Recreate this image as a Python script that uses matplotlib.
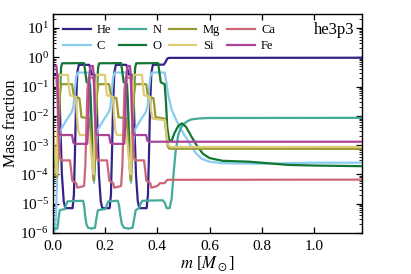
import numpy as np
import matplotlib
matplotlib.use('Agg')
import matplotlib.pyplot as plt
from matplotlib.ticker import LogLocator, MultipleLocator, NullFormatter

# (mass coordinate, mass fraction), one list per element
he_pts = [(0.0, 0.25), (0.019, 0.25), (0.024, 0.12), (0.028, 5e-3), (0.034, 1e-4), (0.041, 1.2e-5), (0.047, 7e-6),
          (0.075, 7e-6), (0.080, 2e-5), (0.084, 5e-4), (0.088, 2e-2), (0.093, 0.3), (0.099, 0.55), (0.139, 0.55),
          (0.143, 0.4), (0.148, 0.26), (0.154, 0.25),
          (0.161, 0.25), (0.166, 0.12), (0.170, 5e-3), (0.176, 1e-4), (0.183, 1.2e-5), (0.189, 7e-6),
          (0.217, 7e-6), (0.222, 2e-5), (0.226, 5e-4), (0.230, 2e-2), (0.235, 0.3), (0.241, 0.55), (0.281, 0.55),
          (0.285, 0.4), (0.290, 0.26), (0.296, 0.25),
          (0.303, 0.25), (0.308, 0.12), (0.312, 5e-3), (0.318, 1e-4), (0.325, 1.2e-5), (0.331, 7e-6),
          (0.359, 7e-6), (0.364, 2e-5), (0.368, 5e-4), (0.372, 2e-2), (0.377, 0.3), (0.383, 0.55), (0.425, 0.56),
          (0.432, 0.7), (0.438, 0.9), (0.445, 0.95), (1.185, 0.96)]

c_pts = [(0.0, 1e-6), (0.006, 1.1e-6), (0.012, 5e-6), (0.016, 1e-4), (0.021, 5e-4), (0.026, 2e-3), (0.031, 3.5e-3),
         (0.051, 7e-3), (0.071, 1.3e-2), (0.078, 2e-2), (0.084, 8e-2), (0.089, 0.22), (0.095, 0.3), (0.139, 0.3),
         (0.143, 0.1), (0.147, 5e-3), (0.152, 3e-4), (0.157, 5e-5),
         (0.163, 5e-4), (0.168, 2e-3), (0.173, 3.5e-3), (0.193, 7e-3), (0.213, 1.3e-2), (0.220, 2e-2), (0.226, 8e-2),
         (0.231, 0.22), (0.237, 0.3), (0.281, 0.3), (0.285, 0.1), (0.289, 5e-3), (0.294, 3e-4), (0.299, 5e-5),
         (0.305, 5e-4), (0.310, 2e-3), (0.315, 3.5e-3), (0.335, 7e-3), (0.355, 1.3e-2), (0.362, 2e-2), (0.368, 8e-2),
         (0.373, 0.22), (0.379, 0.3), (0.428, 0.3), (0.434, 0.15), (0.442, 5e-2), (0.455, 1.6e-2), (0.47, 8e-3),
         (0.49, 3.5e-3), (0.51, 1.8e-3), (0.53, 9e-4), (0.55, 5e-4), (0.57, 3.4e-4), (0.6, 2.7e-4), (0.65, 2.4e-4),
         (0.8, 2.3e-4), (0.9, 2.4e-4), (1.0, 2.5e-4), (1.185, 2.5e-4)]

n_pts = [(0.0, 1.4e-6), (0.017, 1.4e-6), (0.021, 3e-6), (0.026, 6e-6), (0.045, 6.5e-6), (0.05, 9e-6), (0.056, 1.2e-5),
         (0.115, 1.25e-5), (0.119, 9e-6), (0.123, 4e-6), (0.128, 2e-6), (0.134, 1.5e-6), (0.148, 1.4e-6),
         (0.161, 1.5e-6), (0.166, 3e-6), (0.172, 6e-6), (0.2, 6.5e-6), (0.206, 9e-6), (0.212, 1.2e-5),
         (0.248, 1.25e-5), (0.253, 9e-6), (0.258, 4e-6), (0.264, 2e-6), (0.272, 1.5e-6), (0.29, 1.4e-6),
         (0.305, 1.5e-6), (0.311, 3e-6), (0.317, 6e-6), (0.33, 7e-6), (0.336, 1e-5), (0.342, 1.25e-5),
         (0.42, 1.3e-5), (0.428, 1.1e-5), (0.436, 7e-6), (0.447, 7e-6), (0.455, 1.5e-5), (0.462, 1e-4),
         (0.47, 6e-4), (0.48, 2.2e-3), (0.49, 3.8e-3), (0.5, 5.2e-3), (0.515, 6.5e-3), (0.53, 7.5e-3),
         (0.56, 8.1e-3), (0.6, 8.4e-3), (1.185, 8.5e-3)]

o_pts = [(0.0, 1e-3), (0.008, 3e-4), (0.014, 1e-4), (0.019, 3e-4), (0.023, 5e-3), (0.027, 0.1), (0.031, 0.45),
         (0.035, 0.62), (0.119, 0.63), (0.124, 0.3), (0.129, 0.14), (0.141, 0.12), (0.145, 0.03), (0.149, 2e-3),
         (0.153, 3e-4), (0.157, 1e-4),
         (0.161, 3e-4), (0.165, 5e-3), (0.169, 0.1), (0.173, 0.45), (0.177, 0.62), (0.261, 0.63), (0.266, 0.3),
         (0.271, 0.14), (0.283, 0.12), (0.287, 0.03), (0.291, 2e-3), (0.295, 5e-4), (0.299, 3e-4),
         (0.303, 5e-4), (0.307, 5e-3), (0.311, 0.1), (0.315, 0.45), (0.319, 0.62), (0.403, 0.63), (0.408, 0.3),
         (0.413, 0.14), (0.428, 0.12), (0.433, 0.03), (0.438, 4e-3), (0.445, 1.5e-3), (0.455, 1.4e-3),
         (0.465, 2.5e-3), (0.48, 4.5e-3), (0.494, 5.5e-3), (0.51, 4.2e-3), (0.53, 2e-3), (0.55, 1e-3),
         (0.575, 5e-4), (0.6, 3.6e-4), (0.65, 2.9e-4), (0.75, 2.7e-4), (0.8, 2.5e-4), (0.9, 2.1e-4),
         (1.0, 2.0e-4), (1.185, 1.9e-4)]

mg_pts = [(0.0, 3e-3), (0.006, 5e-4), (0.011, 1e-4), (0.015, 8e-5), (0.019, 5e-4), (0.023, 8e-3), (0.027, 0.06),
          (0.032, 0.12), (0.073, 0.12), (0.077, 0.07), (0.081, 0.045), (0.101, 0.04), (0.105, 0.02), (0.109, 9e-3),
          (0.139, 8e-3), (0.144, 3e-3), (0.149, 5e-4), (0.154, 8e-5), (0.157, 6e-5),
          (0.161, 5e-4), (0.165, 8e-3), (0.169, 0.06), (0.174, 0.12), (0.215, 0.12), (0.219, 0.07), (0.223, 0.045),
          (0.243, 0.04), (0.247, 0.02), (0.251, 9e-3), (0.281, 8e-3), (0.286, 3e-3), (0.291, 5e-4), (0.296, 8e-5),
          (0.299, 6e-5),
          (0.303, 5e-4), (0.307, 8e-3), (0.311, 0.06), (0.316, 0.12), (0.357, 0.12), (0.361, 0.07), (0.365, 0.045),
          (0.385, 0.04), (0.389, 0.02), (0.393, 9e-3), (0.428, 8e-3), (0.434, 2.5e-3), (0.44, 9e-4),
          (0.446, 7.5e-4), (1.185, 7.4e-4)]

si_pts = [(0.0, 3e-3), (0.006, 8e-4), (0.011, 2e-4), (0.015, 1e-4), (0.017, 2e-3), (0.021, 0.05), (0.025, 0.25),
          (0.057, 0.25), (0.061, 0.1), (0.065, 0.05), (0.087, 0.045), (0.092, 0.01), (0.097, 3e-3), (0.103, 2.2e-3),
          (0.139, 2.2e-3), (0.145, 8e-4), (0.151, 2e-4), (0.156, 1e-4),
          (0.159, 2e-3), (0.163, 0.05), (0.167, 0.25), (0.199, 0.25), (0.203, 0.1), (0.207, 0.05), (0.229, 0.045),
          (0.234, 0.01), (0.239, 3e-3), (0.245, 2.2e-3), (0.281, 2.2e-3), (0.287, 8e-4), (0.293, 2e-4),
          (0.298, 1e-4),
          (0.301, 2e-3), (0.305, 0.05), (0.309, 0.25), (0.341, 0.25), (0.345, 0.1), (0.349, 0.05), (0.371, 0.045),
          (0.376, 0.015), (0.381, 8e-3), (0.43, 7e-3), (0.436, 2e-3), (0.442, 1e-3), (0.45, 8.6e-4),
          (1.185, 8.6e-4)]

ca_pts = [(0.0, 0.2), (0.013, 0.2), (0.017, 0.05), (0.021, 2e-3), (0.026, 4e-4), (0.031, 3e-4), (0.065, 3e-4),
          (0.069, 1.5e-4), (0.074, 6e-5), (0.089, 5e-5), (0.093, 3.5e-5), (0.119, 4e-5), (0.124, 2e-4),
          (0.128, 5e-3), (0.132, 0.08), (0.137, 0.2), (0.155, 0.2), (0.159, 0.05), (0.163, 2e-3), (0.168, 4e-4),
          (0.173, 3e-4), (0.207, 3e-4), (0.211, 1.5e-4), (0.216, 6e-5), (0.231, 5e-5), (0.235, 3.5e-5),
          (0.261, 4e-5), (0.266, 2e-4), (0.270, 5e-3), (0.274, 0.08), (0.279, 0.2), (0.297, 0.2), (0.301, 0.05),
          (0.305, 2e-3), (0.310, 4e-4),
          (0.315, 3e-4), (0.349, 3e-4), (0.353, 1.5e-4), (0.358, 6e-5), (0.373, 5e-5), (0.377, 3.5e-5),
          (0.40, 4e-5), (0.41, 5e-5), (0.428, 5e-5), (0.438, 6.5e-5), (1.185, 6.6e-5)]

fe_pts = [(0.0, 0.5), (0.013, 0.5), (0.017, 0.2), (0.021, 1e-2), (0.025, 2.5e-3), (0.029, 2.2e-3), (0.073, 2.2e-3),
          (0.078, 1.2e-3), (0.083, 1.1e-3), (0.131, 1.1e-3), (0.135, 5e-3), (0.139, 0.2), (0.143, 0.5),
          (0.153, 0.5), (0.157, 0.2), (0.161, 1e-2), (0.166, 2.5e-3), (0.170, 2.2e-3),
          (0.215, 2.2e-3), (0.220, 1.2e-3), (0.225, 1.1e-3), (0.273, 1.1e-3), (0.277, 5e-3), (0.281, 0.2),
          (0.285, 0.5), (0.295, 0.5), (0.299, 0.2), (0.303, 1e-2), (0.308, 2.5e-3), (0.312, 2.2e-3),
          (0.357, 2.2e-3), (0.362, 1.4e-3), (0.367, 1.3e-3), (1.185, 1.3e-3)]

labels = ['He', 'C', 'N', 'O', 'Mg', 'Si', 'Ca', 'Fe']
series = [he_pts, c_pts, n_pts, o_pts, mg_pts, si_pts, ca_pts, fe_pts]
colors = ['#332288', '#88CCEE', '#44AA99', '#117733', '#999933', '#DDCC77', '#CC6677', '#AA4499']

plt.rcParams['font.family'] = 'serif'
plt.rcParams['font.serif'] = ['Liberation Serif', 'DejaVu Serif']
plt.rcParams['mathtext.fontset'] = 'stix'

fig = plt.figure(figsize=(4.11, 2.74), dpi=100)
ax = fig.add_axes([0.129, 0.150, 0.752, 0.799])

for pts, lab, col in zip(series, labels, colors):
    arr = np.array(pts)
    ax.plot(arr[:, 0], arr[:, 1], color=col, lw=1.6, label=lab)

ax.set_yscale('log')
ax.set_xlim(0, 1.185)
ax.set_ylim(1e-6, 30)

ax.xaxis.set_major_locator(MultipleLocator(0.2))
ax.yaxis.set_major_locator(LogLocator(base=10, numticks=20))
ax.yaxis.set_minor_locator(LogLocator(base=10, subs=np.arange(2, 10), numticks=20))
ax.yaxis.set_minor_formatter(NullFormatter())
ax.tick_params(which='both', direction='in', top=True, right=True, labelsize=11)
ax.tick_params(which='major', length=4, width=0.9)
ax.tick_params(which='minor', length=2, width=0.6)
ax.tick_params(axis='x', which='major', pad=5)
ax.tick_params(axis='y', which='major', pad=3)
for sp in ax.spines.values():
    sp.set_linewidth(1.0)

ax.set_xlabel(r'$m$ [$M_\odot$]', fontsize=12, labelpad=1)
ax.set_ylabel('Mass fraction', fontsize=11.5, labelpad=1)

ax.legend(ncol=4, loc='upper left', frameon=False, fontsize=9, handlelength=2.2,
          columnspacing=0.6, handletextpad=0.5, labelspacing=0.35, borderaxespad=0.4)
ax.text(0.975, 0.965, 'he3p3', transform=ax.transAxes, ha='right', va='top', fontsize=12)

fig.savefig('out.png', dpi=100)
